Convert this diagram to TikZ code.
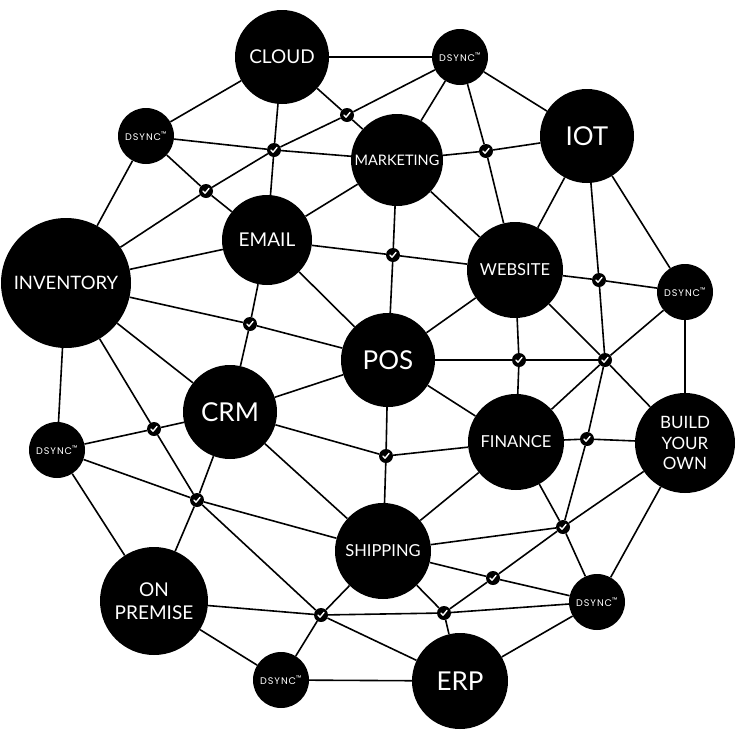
\documentclass[tikz,border=0pt]{standalone}
\usepackage{fontspec}
\setmainfont{Lato}
\newfontfamily\dejavu{DejaVu Sans}
\newfontfamily\dsyncfont[LetterSpace=10]{Poppins}
\begin{document}
\begin{tikzpicture}[x=1pt,y=-1pt,
  hub/.style={circle,fill=black,text=white,inner sep=0pt,align=center,font=\fontsize{#1}{#1}\selectfont},
  big/.style={hub=26,minimum size=96pt},
  mid/.style={hub=19,minimum size=94pt},
  sm/.style={hub=16.5,minimum size=96pt},
  dsync/.style={circle,fill=black,text=white,inner sep=0pt,minimum size=56pt,font=\dsyncfont\fontsize{9.6}{10}\selectfont},
  chk/.style={circle,fill=black,inner sep=0pt,minimum size=14pt,
    path picture={\draw[white,line width=1.4pt,line cap=round,line join=round]
      ([xshift=-3pt,yshift=0pt]path picture bounding box.center) --
      ([xshift=-1pt,yshift=-2.2pt]path picture bounding box.center) --
      ([xshift=3pt,yshift=2.6pt]path picture bounding box.center);}},
  link/.style={line width=1.6pt,black}]
\useasboundingbox[fill=white] (0,0) rectangle (737,737);
% hubs
\node[mid,minimum size=94pt] (cloud) at (282,57) {CLOUD};
\node[dsync] (d1) at (146,136) {DSYNC\textsuperscript{™}};
\node[dsync] (d2) at (460,57) {DSYNC\textsuperscript{™}};
\node[hub=14.5,minimum size=92pt] (mkt) at (397,160) {MARKETING};
\node[big,minimum size=94pt] (iot) at (587,136) {IOT};
\node[mid,minimum size=90pt] (email) at (267,240) {EMAIL};
\node[hub=18.5,minimum size=130pt] (inv) at (66,283) {INVENTORY};
\node[sm] (web) at (515,270) {WEBSITE};
\node[dsync] (d3) at (685,292) {DSYNC\textsuperscript{™}};
\node[big,minimum size=94pt] (pos) at (388,360) {POS};
\node[big,minimum size=94pt] (crm) at (230,412) {CRM};
\node[sm] (fin) at (516,442) {FINANCE};
\node[hub=17,minimum size=100pt,font=\fontsize{17}{20.5}\selectfont] (byo) at (685,443) {BUILD\\YOUR\\OWN};
\node[dsync] (d4) at (57,450) {DSYNC\textsuperscript{™}};
\node[sm] (ship) at (383,551) {SHIPPING};
\node[hub=19,minimum size=108pt,font=\fontsize{19}{22.5}\selectfont] (onp) at (154,601) {ON\\PREMISE};
\node[dsync] (d6) at (597,602) {DSYNC\textsuperscript{™}};
\node[dsync] (d5) at (281,680) {DSYNC\textsuperscript{™}};
\node[big,minimum size=96pt] (erp) at (460,681) {ERP};
% checks
\foreach \n/\x/\y in {k1/347/115,k2/274/150,k3/206/191,k4/250/324,k5/486/151,k6/599/280,
  k7/393/255,k8/519/360,k9/605/360,k10/587/439,k11/563/527,k12/386/456,k13/197/500,
  k14/154/429,k15/321/615,k16/493/578,k17/444/613}
  \node[chk] (\n) at (\x,\y) {};
% links
\foreach \a/\b in {cloud/d2,cloud/d1,cloud/k1,k1/mkt,cloud/k2,k2/email,d2/k1,k1/k2,k2/k3,k3/inv,
  d1/k2,k2/mkt,d1/k3,k3/email,d1/inv,d2/mkt,d2/k5,k5/web,d2/iot,mkt/k5,k5/iot,mkt/email,
  mkt/k7,k7/pos,mkt/web,iot/web,iot/k6,iot/d3,email/inv,email/k7,k7/web,email/pos,email/k4,
  k4/crm,inv/k4,k4/pos,inv/d4,inv/crm,inv/k14,k14/k13,d4/k14,k14/crm,d4/k13,k13/ship,
  crm/k13,k13/onp,k13/k15,d4/onp,crm/pos,crm/k12,k12/fin,crm/ship,pos/web,pos/k8,k8/k9,
  pos/fin,pos/k12,k12/ship,web/k6,k6/d3,web/k8,k8/fin,web/k9,k9/byo,k6/k9,d3/k9,k9/fin,
  k9/k10,d3/byo,fin/k10,k10/byo,k10/k11,fin/k11,k11/d6,fin/ship,byo/k11,byo/d6,ship/k11,
  k11/k16,k16/k17,ship/k16,k16/d6,ship/k17,k17/erp,k17/d6,k15/k17,d6/erp,onp/k15,onp/d5,
  k15/d5,k15/ship,k15/erp,d5/erp}
  \draw[link] (\a) -- (\b);
\end{tikzpicture}
\end{document}
